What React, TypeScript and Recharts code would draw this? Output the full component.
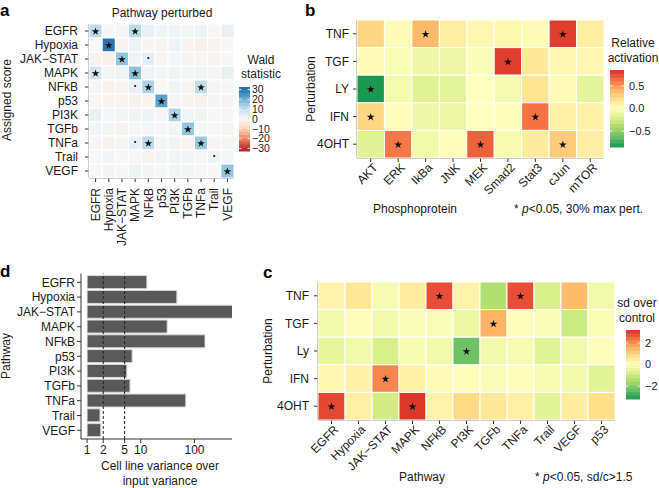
import React from 'react';
import { ScatterChart, Scatter, XAxis, YAxis, BarChart, Bar, ReferenceLine, Symbols } from 'recharts';

const FONT = '"Liberation Sans", Arial, Helvetica, sans-serif';
const INK = '#1a1a1a';
const AXIS = '#333333';
const FS = 12;

// ---- panel a: Wald statistic, assigned score (rows) x pathway perturbed (cols)
const pathwaysA = ['EGFR', 'Hypoxia', 'JAK−STAT', 'MAPK', 'NFkB', 'p53', 'PI3K', 'TGFb', 'TNFa', 'Trail', 'VEGF'];
const waldScore = [
  [11, 0, 0.5, 11, 3, 1, 2, 1, 2, 0, 3],
  [0, 30, -1, 2, -1, -1, 2, -1, -2, -1, 0],
  [-1.5, -2.5, 16, 2, 4, -1, 0.5, -1, -1, -1, 0],
  [8, 1, 2, 17, 2, 0.5, 1, 0.5, 1, 0.5, 3],
  [0.5, -1.5, -0.5, 3, 13, 0, 1, -1, 10, -0.5, 0],
  [-1, -1, -1, -1.5, -0.5, 22, -0.5, -0.5, -1.5, -0.5, -0.5],
  [3, 0.5, 1, 1, 2, -0.5, 13, 1, 1, 0, 0.5],
  [1, 1, -1.5, 0, 0.5, 0, 1, 16, 0.5, 0, -0.5],
  [0.5, -1.5, -0.5, 3, 11, -0.5, 1, -1, 15, -0.5, -0.5],
  [0, 1, 0, 0, -1.5, 1, 1, 1, 0, 2, 0.5],
  [0, -1, 0, 2, 1, 0, 1, 1, 0, 0, 16],
];
// '*' significant, 'o' weak, '-' none
const waldMarks = [
  '*--*-------',
  '-*---------',
  '--*-o------',
  '*--*-------',
  '---o*---*--',
  '-----*-----',
  '------*----',
  '-------*---',
  '---o*---*--',
  '---------o-',
  '----------*',
];
const waldTicks = [30, 20, 10, 0, -10, -20, -30];

// ---- panel b: relative activation of phosphoproteins
const perturbB = ['TNF', 'TGF', 'LY', 'IFN', '4OHT'];
const phosphoproteins = ['AKT', 'ERK', 'IkBa', 'JNK', 'MEK', 'Smad2', 'Stat3', 'cJun', 'mTOR'];
const relActivation = [
  [0.25, 0.02, 0.38, 0.12, 0.05, 0.06, 0.02, 0.8, 0.12],
  [0.02, -0.04, -0.1, -0.1, -0.02, 0.8, 0.15, 0.05, 0.05],
  [-0.85, -0.07, -0.17, -0.15, 0.0, -0.06, 0.18, 0.03, -0.15],
  [0.25, 0.01, -0.1, -0.11, 0.0, 0.01, 0.62, 0.1, 0.1],
  [-0.17, 0.6, -0.08, 0.01, 0.68, -0.05, 0.14, 0.3, 0.12],
];
const relMarks = ['--*----*-', '-----*---', '*--------', '*-----*--', '-*--*--*-'];
const relTicks = [0.5, 0, -0.5];

// ---- panel c: sd over control per pathway
const perturbC = ['TNF', 'TGF', 'Ly', 'IFN', '4OHT'];
const pathwaysC = ['EGFR', 'Hypoxia', 'JAK−STAT', 'MAPK', 'NFkB', 'PI3K', 'TGFb', 'TNFa', 'Trail', 'VEGF', 'p53'];
const sdOverControl = [
  [0.3, 0.6, -0.2, 0.5, 2.8, 0.3, -1.4, 2.8, -0.8, 1.4, -0.3],
  [-0.3, 0.05, -0.3, -0.1, -0.1, -0.4, 1.5, 0.05, -0.1, -1.0, -0.15],
  [-0.5, -0.3, -0.8, -0.2, -0.3, -2.3, -0.3, -0.2, -0.6, -0.3, 0.05],
  [0.2, 0.35, 2.1, 0.35, 0.1, 0.05, -0.1, -0.05, -0.2, -0.3, -0.6],
  [2.9, 0.4, -0.9, 3.1, 0.3, 0.9, 0.6, 0.4, -0.6, 0.5, 0.8],
];
const sdMarks = ['----*--*---', '------*----', '-----*-----', '--*--------', '*--*-------'];
const sdTicks = [2, 0, -2];

// ---- panel d: cell line variance over input variance
const pathwaysD = ['EGFR', 'Hypoxia', 'JAK−STAT', 'MAPK', 'NFkB', 'p53', 'PI3K', 'TGFb', 'TNFa', 'Trail', 'VEGF'];
const varianceRatio = [13, 47, 600, 31, 157, 6.9, 5.5, 6.3, 69, 1.74, 1.8];
const varianceTicks = [1, 2, 5, 10, 100];
const thresholds = [2, 5];

// ---- colour helpers
const rdBu = ['#b2182b', '#d6604d', '#f4a582', '#fddbc7', '#f7f7f7', '#d1e5f0', '#92c5de', '#4393c3', '#2166ac'];
const rdYlGnRev = ['#1a9850', '#66bd63', '#a6d96a', '#d9ef8b', '#ffffbf', '#fee08b', '#fdae61', '#f46d43', '#d73027'];

const hex = (h: string) => [1, 3, 5].map((i) => parseInt(h.slice(i, i + 2), 16));
function ramp(stops: string[], t: number) {
  const tt = Math.max(0, Math.min(1, t)) * (stops.length - 1);
  const i = Math.min(stops.length - 2, Math.floor(tt));
  const f = tt - i;
  const a = hex(stops[i]);
  const b = hex(stops[i + 1]);
  const c = a.map((v, k) => Math.round(v + (b[k] - v) * f));
  return `rgb(${c[0]},${c[1]},${c[2]})`;
}
const colorA = (v: number) => ramp(rdBu, (v + 32.5) / 65);
const colorB = (v: number) => ramp(rdYlGnRev, (v + 0.85) / 1.7);
const colorC = (v: number) => ramp(rdYlGnRev, (v + 3.2) / 6.4);

const toCells = (rows: string[], values: number[][], marks: string[]) =>
  values.flatMap((row, r) => row.map((value, c) => ({ x: c, y: r, value, mark: marks[r][c], row: rows[r] })));

// ---- ticks
const VertTick = (props: any) => {
  const { x, y, payload, labels } = props;
  return (
    <text x={x} y={y} transform={`rotate(-90 ${x} ${y})`} textAnchor="end" dy="0.35em" fontSize={FS} fill={INK}>
      {labels[payload.value]}
    </text>
  );
};
const SlantTick = (props: any) => {
  const { x, y, payload, labels } = props;
  return (
    <text x={x} y={y} transform={`rotate(-45 ${x} ${y})`} textAnchor="end" dy="0.71em" dx="0.2em" fontSize={FS} fill={INK}>
      {labels[payload.value]}
    </text>
  );
};

type HeatProps = {
  left: number; top: number; width: number; height: number;
  plot: { x0: number; x1: number; y0: number; y1: number };
  rows: string[]; cols: string[]; values: number[][]; marks: string[];
  color: (v: number) => string; slant?: boolean; yGap: number; xGap: number;
};

function Heatmap({ left, top, width, height, plot, rows, cols, values, marks, color, slant, yGap, xGap }: HeatProps) {
  const cw = (plot.x1 - plot.x0) / cols.length;
  const ch = (plot.y1 - plot.y0) / rows.length;
  const cells = toCells(rows, values, marks);
  const shape = (p: any) => {
    const { cx, cy, payload } = p;
    return (
      <g>
        <rect x={cx - cw / 2} y={cy - ch / 2} width={cw} height={ch} fill={color(payload.value)} stroke="#ffffff" strokeWidth={1} />
        {payload.mark === '*' && <Symbols cx={cx} cy={cy + 0.5} type="star" size={19} fill="#111" />}
        {payload.mark === 'o' && <circle cx={cx} cy={cy - 1} r={1.1} fill="#111" />}
      </g>
    );
  };
  return (
    <div style={{ position: 'absolute', left, top }}>
      <ScatterChart
        width={width}
        height={height}
        margin={{ top: plot.y0, right: width - plot.x1, left: 0, bottom: 0 }}
      >
        <XAxis
          type="number"
          dataKey="x"
          domain={[-0.5, cols.length - 0.5]}
          ticks={cols.map((_, i) => i)}
          interval={0}
          height={height - plot.y1}
          tickSize={4}
          tickMargin={xGap}
          axisLine={{ stroke: AXIS }}
          tickLine={{ stroke: AXIS }}
          tick={slant ? <SlantTick labels={cols} /> : <VertTick labels={cols} />}
        />
        <YAxis
          type="number"
          dataKey="y"
          reversed
          domain={[-0.5, rows.length - 0.5]}
          ticks={rows.map((_, i) => i)}
          interval={0}
          width={plot.x0}
          tickSize={4}
          tickMargin={yGap}
          axisLine={{ stroke: AXIS }}
          tickLine={{ stroke: AXIS }}
          tickFormatter={(v: number) => rows[v]}
          tick={{ fontSize: FS, fill: INK }}
        />
        <Scatter data={cells} shape={shape} isAnimationActive={false} />
      </ScatterChart>
    </div>
  );
}

function ColorBar({ x, y, w, h, min, max, color, ticks, fmt, labelX, fs }: any) {
  const n = 20;
  const pos = (v: number) => y + ((max - v) / (max - min)) * h;
  return (
    <g>
      {Array.from({ length: n }, (_, i) => {
        const v = max - ((i + 0.5) / n) * (max - min);
        return <rect key={i} x={x} y={y + (i * h) / n} width={w} height={h / n + 0.5} fill={color(v)} />;
      })}
      {ticks.map((t: number) => (
        <g key={t}>
          <line x1={x} x2={x + 2.5} y1={pos(t)} y2={pos(t)} stroke="#fff" strokeWidth={0.8} />
          <line x1={x + w - 2.5} x2={x + w} y1={pos(t)} y2={pos(t)} stroke="#fff" strokeWidth={0.8} />
          <text x={labelX} y={pos(t)} dy="0.35em" fontSize={fs} fill={INK}>{fmt(t)}</text>
        </g>
      ))}
    </g>
  );
}

const minus = (s: string) => s.replace('-', '−');

export default function App() {
  const barRows = pathwaysD.map((name, i) => ({ name, ratio: varianceRatio[i] }));
  return (
    <div style={{ position: 'absolute', left: 0, top: 0, width: 659, height: 488, background: '#fff', overflow: 'hidden', fontFamily: FONT }}>
      <div style={{ position: 'absolute', left: 0, top: 260 }}>
        <BarChart
          width={240}
          height={200}
          data={barRows}
          layout="vertical"
          margin={{ top: 13.6, right: 8, left: 0, bottom: 0 }}
          barCategoryGap="5%"
        >
          <XAxis
            type="number"
            scale="log"
            domain={[0.77, 500]}
            allowDataOverflow
            ticks={varianceTicks}
            interval={0}
            height={21}
            tickSize={4}
            tickMargin={2}
            axisLine={{ stroke: AXIS }}
            tickLine={{ stroke: AXIS }}
            tick={{ fontSize: FS, fill: INK }}
          />
          <YAxis
            type="category"
            dataKey="name"
            width={81}
            interval={0}
            padding={{ top: 1.3, bottom: 1.3 }}
            tickSize={4}
            tickMargin={2}
            axisLine={{ stroke: AXIS }}
            tickLine={{ stroke: AXIS }}
            tick={{ fontSize: FS, fill: INK }}
          />
          <Bar dataKey={(d: any) => [1, d.ratio]} fill="#595959" stroke="#d9d9d9" strokeWidth={1} isAnimationActive={false} />
          {thresholds.map((t) => (
            <ReferenceLine key={t} x={t} stroke="#222" strokeDasharray="3 2" strokeWidth={1} />
          ))}
        </BarChart>
      </div>

      <Heatmap
        left={0} top={0} width={240} height={262}
        plot={{ x0: 89, x1: 234, y0: 24, y1: 178 }} yGap={7} xGap={6}
        rows={pathwaysA} cols={pathwaysA} values={waldScore} marks={waldMarks} color={colorA}
      />
      <Heatmap
        left={300} top={0} width={320} height={230}
        plot={{ x0: 57, x1: 304, y0: 20, y1: 158 }} yGap={4} xGap={2}
        rows={perturbB} cols={phosphoproteins} values={relActivation} marks={relMarks} color={colorB} slant
      />
      <Heatmap
        left={230} top={260} width={420} height={220}
        plot={{ x0: 88, x1: 385, y0: 22, y1: 160 }} yGap={5} xGap={2}
        rows={perturbC} cols={pathwaysC} values={sdOverControl} marks={sdMarks} color={colorC} slant
      />

      <svg width={659} height={488} style={{ position: 'absolute', left: 0, top: 0, pointerEvents: 'none' }} fontFamily={FONT}>
        {/* panel a */}
        <text x={0} y={16} fontSize={17} fontWeight="bold" fill="#000">a</text>
        <text x={162} y={17} fontSize={FS} textAnchor="middle" fill={INK}>Pathway perturbed</text>
        <text x={11} y={100} fontSize={FS} textAnchor="middle" fill={INK} transform="rotate(-90 11 100)">Assigned score</text>
        <text x={261} y={64} fontSize={FS} textAnchor="middle" fill={INK}>Wald</text>
        <text x={261} y={78} fontSize={FS} textAnchor="middle" fill={INK}>statistic</text>
        <ColorBar x={239} y={87} w={11} h={64} min={-32.5} max={32.5} color={colorA} ticks={waldTicks} fmt={(t: number) => minus(String(t))} labelX={252} fs={10.5} />

        {/* panel b */}
        <text x={305} y={16} fontSize={17} fontWeight="bold" fill="#000">b</text>
        <text x={315} y={89} fontSize={FS} textAnchor="middle" fill={INK} transform="rotate(-90 315 89)">Perturbation</text>
        <text x={415} y={213} fontSize={FS} textAnchor="middle" fill={INK}>Phosphoprotein</text>
        <text x={514} y={213} fontSize={FS} fill={INK}>* <tspan fontStyle="italic">p</tspan>&lt;0.05, 30% max pert.</text>
        <text x={633} y={47} fontSize={FS} textAnchor="middle" fill={INK}>Relative</text>
        <text x={633} y={62} fontSize={FS} textAnchor="middle" fill={INK}>activation</text>
        <ColorBar x={610} y={70} w={14} h={77} min={-0.85} max={0.85} color={colorB} ticks={relTicks} fmt={(t: number) => minus(t.toFixed(1))} labelX={629} fs={11} />

        {/* panel c */}
        <text x={263} y={278} fontSize={17} fontWeight="bold" fill="#000">c</text>
        <text x={272} y={351} fontSize={FS} textAnchor="middle" fill={INK} transform="rotate(-90 272 351)">Perturbation</text>
        <text x={422} y={481} fontSize={FS} textAnchor="middle" fill={INK}>Pathway</text>
        <text x={535} y={481} fontSize={FS} fill={INK}>* <tspan fontStyle="italic">p</tspan>&lt;0.05, sd/c&gt;1.5</text>
        <text x={637} y={307} fontSize={FS} textAnchor="middle" fill={INK}>sd over</text>
        <text x={637} y={322} fontSize={FS} textAnchor="middle" fill={INK}>control</text>
        <ColorBar x={626} y={330} w={14} h={69} min={-3.2} max={3.2} color={colorC} ticks={sdTicks} fmt={(t: number) => minus(String(t))} labelX={645} fs={11} />

        {/* panel d */}
        <text x={0} y={277} fontSize={17} fontWeight="bold" fill="#000">d</text>
        <text x={10} y={356} fontSize={FS} textAnchor="middle" fill={INK} transform="rotate(-90 10 356)">Pathway</text>
        <text x={160} y={470} fontSize={FS} textAnchor="middle" fill={INK}>Cell line variance over</text>
        <text x={160} y={485} fontSize={FS} textAnchor="middle" fill={INK}>input variance</text>
      </svg>
    </div>
  );
}
